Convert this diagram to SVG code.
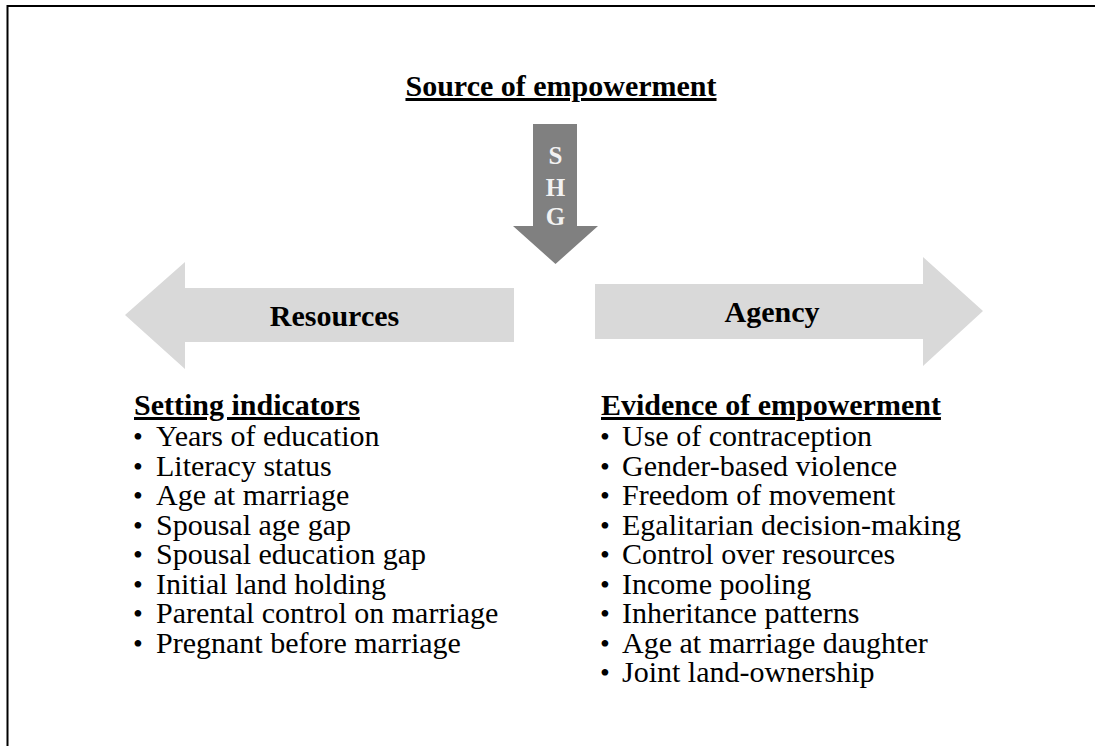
<svg xmlns="http://www.w3.org/2000/svg" width="1095" height="746" viewBox="0 0 1095 746">
<style>
.hd{font-family:"Liberation Serif","Times New Roman",serif;font-weight:bold;font-size:30px;fill:#000;text-decoration:underline}
.lb{font-family:"Liberation Serif","Times New Roman",serif;font-weight:bold;font-size:30px;fill:#000}
.it{font-family:"Liberation Serif","Times New Roman",serif;font-size:30px;fill:#000}
.bu{font-size:28px}
.shg{font-family:"Liberation Serif","Times New Roman",serif;font-weight:bold;font-size:25px;fill:#f2f2f2}
</style>
<rect x="0" y="0" width="1095" height="746" fill="#fff"/>
<path d="M7.5 746 V6 H1095" fill="none" stroke="#000" stroke-width="2"/>
<g id="title"><text class="hd" x="561" y="96" text-anchor="middle">Source of empowerment</text></g>
<g id="connectors">
<g id="shg-arrow">
<polygon points="533,124 577,124 577,226 598,226 555.5,264 513,226 533,226" fill="#808080"/>
<text class="shg" x="555.5" y="164" text-anchor="middle">S</text>
<text class="shg" x="555.5" y="196" text-anchor="middle">H</text>
<text class="shg" x="555.5" y="225" text-anchor="middle">G</text>
</g>
<g id="resources">
<polygon points="514,288 514,342 185,342 185,369 125,315 185,262 185,288" fill="#d9d9d9"/>
<text class="lb" x="334.5" y="326" text-anchor="middle">Resources</text>
</g>
<g id="agency">
<polygon points="595,284 923,284 923,257 983,311 923,366 923,339 595,339" fill="#d9d9d9"/>
<text class="lb" x="772" y="322" text-anchor="middle">Agency</text>
</g>
</g>
<g id="setting-indicators">
<text class="hd" x="134" y="415">Setting indicators</text>
<text class="it" y="446"><tspan class="bu" x="133">•</tspan><tspan x="156">Years of education</tspan></text>
<text class="it" y="475.5"><tspan class="bu" x="133">•</tspan><tspan x="156">Literacy status</tspan></text>
<text class="it" y="505"><tspan class="bu" x="133">•</tspan><tspan x="156">Age at marriage</tspan></text>
<text class="it" y="534.5"><tspan class="bu" x="133">•</tspan><tspan x="156">Spousal age gap</tspan></text>
<text class="it" y="564"><tspan class="bu" x="133">•</tspan><tspan x="156">Spousal education gap</tspan></text>
<text class="it" y="593.5"><tspan class="bu" x="133">•</tspan><tspan x="156">Initial land holding</tspan></text>
<text class="it" y="623"><tspan class="bu" x="133">•</tspan><tspan x="156">Parental control on marriage</tspan></text>
<text class="it" y="652.5"><tspan class="bu" x="133">•</tspan><tspan x="156">Pregnant before marriage</tspan></text>
</g>
<g id="evidence">
<text class="hd" x="601" y="415">Evidence of empowerment</text>
<text class="it" y="446"><tspan class="bu" x="600">•</tspan><tspan x="622">Use of contraception</tspan></text>
<text class="it" y="475.5"><tspan class="bu" x="600">•</tspan><tspan x="622">Gender-based violence</tspan></text>
<text class="it" y="505"><tspan class="bu" x="600">•</tspan><tspan x="622">Freedom of movement</tspan></text>
<text class="it" y="534.5"><tspan class="bu" x="600">•</tspan><tspan x="622">Egalitarian decision-making</tspan></text>
<text class="it" y="564"><tspan class="bu" x="600">•</tspan><tspan x="622">Control over resources</tspan></text>
<text class="it" y="593.5"><tspan class="bu" x="600">•</tspan><tspan x="622">Income pooling</tspan></text>
<text class="it" y="623"><tspan class="bu" x="600">•</tspan><tspan x="622">Inheritance patterns</tspan></text>
<text class="it" y="652.5"><tspan class="bu" x="600">•</tspan><tspan x="622">Age at marriage daughter</tspan></text>
<text class="it" y="682"><tspan class="bu" x="600">•</tspan><tspan x="622">Joint land-ownership</tspan></text>
</g>
</svg>
